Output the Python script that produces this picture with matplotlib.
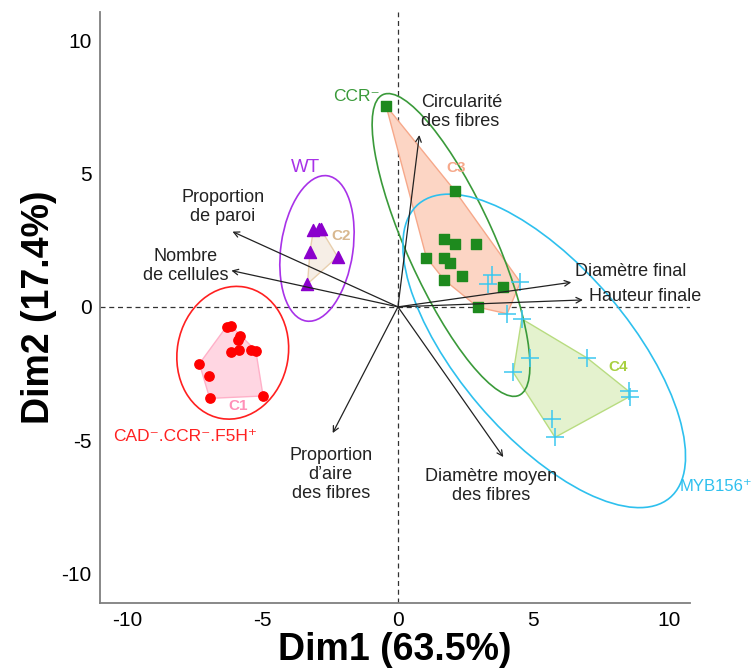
import matplotlib
matplotlib.use("Agg")
import matplotlib.pyplot as plt
from matplotlib.patches import Ellipse, Polygon

plt.rcParams['font.family'] = ['Liberation Sans', 'DejaVu Sans']
plt.rcParams['axes.unicode_minus'] = False

# individuals (PCA scores), one array per genotype
cad_x = [-6.33, -6.17, -5.84, -5.90, -6.16, -5.87, -5.41, -5.25, -7.33, -6.98, -6.95, -4.98]
cad_y = [-0.74, -0.71, -1.09, -1.26, -1.71, -1.61, -1.62, -1.64, -2.13, -2.58, -3.43, -3.34]
wt_x = [-3.12, -2.93, -2.85, -3.25, -2.23, -3.34]
wt_y = [2.88, 2.91, 2.91, 2.07, 1.88, 0.86]
ccr_x = [-0.44, 2.11, 1.69, 2.11, 2.89, 1.05, 1.70, 1.92, 2.38, 1.70, 3.89, 2.95]
ccr_y = [7.54, 4.34, 2.54, 2.37, 2.35, 1.85, 1.85, 1.66, 1.17, 1.02, 0.75, -0.01]
myb_x = [3.48, 3.34, 4.52, 4.03, 4.57, 4.88, 4.26, 6.99, 8.53, 8.56, 5.68, 5.80]
myb_y = [1.20, 0.85, 0.92, -0.26, -0.45, -1.92, -2.46, -1.92, -3.17, -3.36, -4.21, -4.89]

# clusters
c1_pts = list(zip(cad_x, cad_y))
c2_pts = list(zip(wt_x, wt_y))
c3_pts = list(zip(ccr_x, ccr_y)) + list(zip(myb_x[:4], myb_y[:4]))
c4_pts = list(zip(myb_x[4:], myb_y[4:]))

# variables (arrow tips)
var_names = ["Circularité\ndes fibres", "Proportion\nde paroi", "Nombre\nde cellules",
             "Diamètre final", "Hauteur finale", "Proportion\nd’aire\ndes fibres",
             "Diamètre moyen\ndes fibres"]
var_x = [0.79, -6.11, -6.15, 6.40, 6.83, -2.41, 3.89]
var_y = [6.44, 2.82, 1.36, 0.92, 0.26, -4.73, -5.63]

# group ellipses: centre x, centre y, semi axis 1, semi axis 2, angle
ell_cad = (-6.10, -1.72, 2.05, 2.50, -10)
ell_wt = (-2.99, 2.19, 1.33, 2.75, -8)
ell_ccr = (1.96, 2.32, 6.17, 1.62, -66)
ell_myb = (5.40, -1.65, 7.20, 3.15, -50)


def hull(pts):
    pts = sorted(set(pts))
    def cross(o, a, b):
        return (a[0] - o[0]) * (b[1] - o[1]) - (a[1] - o[1]) * (b[0] - o[0])
    lower, upper = [], []
    for p in pts:
        while len(lower) >= 2 and cross(lower[-2], lower[-1], p) <= 0:
            lower.pop()
        lower.append(p)
    for p in reversed(pts):
        while len(upper) >= 2 and cross(upper[-2], upper[-1], p) <= 0:
            upper.pop()
        upper.append(p)
    return lower[:-1] + upper[:-1]


fig = plt.figure(figsize=(7.55, 6.7), dpi=100)
ax = fig.add_axes([0.1325, 0.1, 0.782, 0.882])

# cluster hulls
for pts, fc, ec in [(c1_pts, '#FFD6E2', '#FFB0C8'), (c2_pts, '#F6EEE6', '#E8CFAE'),
                    (c3_pts, '#FCD5C4', '#F6A88A'), (c4_pts, '#E4F2CE', '#B8DC80')]:
    ax.add_patch(Polygon(hull(pts), closed=True, facecolor=fc, edgecolor=ec, lw=1.0, zorder=1))

# group ellipses
for (cx, cy, a, b, ang), col in [(ell_cad, '#FF2020'), (ell_wt, '#A832E8'),
                                 (ell_ccr, '#3A9A3A'), (ell_myb, '#2EC0EE')]:
    ax.add_patch(Ellipse((cx, cy), 2 * a, 2 * b, angle=ang, fill=False, edgecolor=col, lw=1.2, zorder=2))

ax.axhline(0, color='#333333', ls=(0, (4, 3)), lw=0.9, zorder=0)
ax.axvline(0, color='#333333', ls=(0, (4, 3)), lw=0.9, zorder=0)

# points
ax.scatter(cad_x, cad_y, s=45, marker='o', color='#FF0000', zorder=4)
ax.scatter(wt_x, wt_y, s=75, marker='^', color='#8B00CC', zorder=4)
ax.scatter(ccr_x, ccr_y, s=42, marker='s', color='#1E8A1E', zorder=4)
ax.scatter(myb_x, myb_y, s=160, marker='+', color='#3CC8F0', linewidths=1.1, zorder=4)

# variable arrows
for x, y in zip(var_x, var_y):
    ax.annotate('', xy=(x, y), xytext=(0, 0),
                arrowprops=dict(arrowstyle='->', color='#222222', lw=0.9, shrinkA=0, shrinkB=0),
                zorder=5)

label_pos = [(0.85, 7.30, 'left'), (-6.47, 3.75, 'center'), (-7.84, 1.54, 'center'),
             (6.54, 1.31, 'left'), (7.06, 0.37, 'left'), (-2.48, -6.29, 'center'),
             (3.44, -6.70, 'center')]
for name, (tx, ty, ha) in zip(var_names, label_pos):
    ax.text(tx, ty, name, ha=ha, va='center', fontsize=13, color='#222222',
            linespacing=1.15, zorder=6, clip_on=False)

# group labels
ax.text(-1.55, 7.90, 'CCR⁻', color='#3A9A3A', fontsize=12.5, ha='center', va='center')
ax.text(-3.40, 5.24, 'WT', color='#A832E8', fontsize=13.5, ha='center', va='center')
ax.text(-7.84, -4.87, 'CAD⁻.CCR⁻.F5H⁺', color='#FF2020', fontsize=12.5, ha='center', va='center')
ax.text(10.40, -6.74, 'MYB156⁺', color='#2EC0EE', fontsize=12, ha='left', va='center',
        clip_on=False)

# cluster labels
ax.text(-5.91, -3.71, 'C1', color='#FF90B8', fontsize=11, fontweight='bold', ha='center', va='center')
ax.text(-2.11, 2.66, 'C2', color='#D8B890', fontsize=11, fontweight='bold', ha='center', va='center')
ax.text(2.14, 5.21, 'C3', color='#F6A88A', fontsize=11, fontweight='bold', ha='center', va='center')
ax.text(8.13, -2.25, 'C4', color='#A8D040', fontsize=11, fontweight='bold', ha='center', va='center')

ax.set_xlim(-11.0, 10.8)
ax.set_ylim(-11.1, 11.05)
ax.set_xticks([-10, -5, 0, 5, 10])
ax.set_yticks([-10, -5, 0, 5, 10])
ax.tick_params(length=0, labelsize=15, pad=6)
for s in ['top', 'right']:
    ax.spines[s].set_visible(False)
for s in ['left', 'bottom']:
    ax.spines[s].set_color('#7F7F7F')
    ax.spines[s].set_linewidth(1.3)

ax.set_xlabel('Dim1 (63.5%)', fontsize=27, fontweight='bold', labelpad=1)
ax.set_ylabel('Dim2 (17.4%)', fontsize=27, fontweight='bold', labelpad=3)

fig.savefig('out.png', dpi=100)
